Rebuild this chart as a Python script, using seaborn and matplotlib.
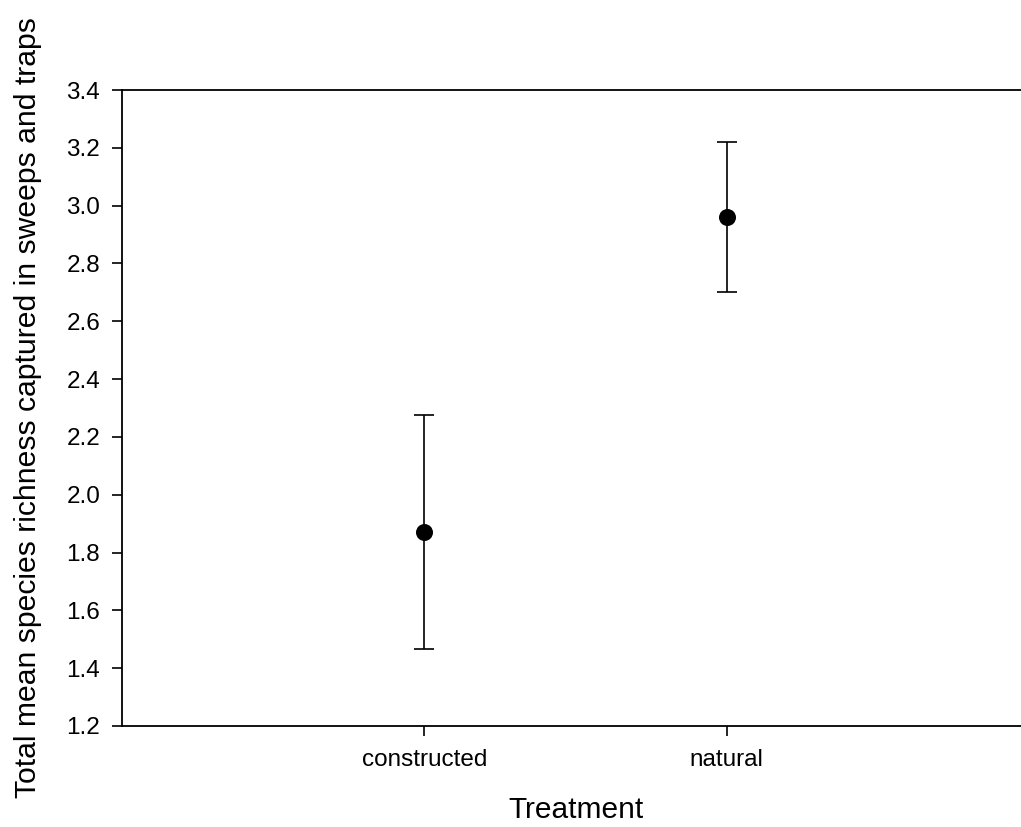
import matplotlib
matplotlib.use("Agg")
import matplotlib.pyplot as plt
import seaborn as sns
import pandas as pd

# Mean species richness per treatment with standard errors
treatments = ["constructed", "natural"]
mean_richness = [1.87, 2.96]
richness_err = [0.405, 0.26]

y_ticks = [1.2, 1.4, 1.6, 1.8, 2.0, 2.2, 2.4, 2.6, 2.8, 3.0, 3.2, 3.4]

sns.set_theme(style="white")
plt.rcParams["font.family"] = ["Liberation Sans", "DejaVu Sans"]

df = pd.DataFrame({"Treatment": treatments, "Richness": mean_richness, "Err": richness_err})

fig = plt.figure(figsize=(10.21, 8.27), dpi=100)
# the plotting box runs past the right edge of the figure
ax = fig.add_axes([122 / 1021, 101 / 827, 907 / 1021, 636 / 827])

ax.errorbar(range(len(treatments)), df["Richness"], yerr=df["Err"], fmt="none",
            ecolor="black", elinewidth=1.2, capsize=7, capthick=1.2, zorder=2)
sns.scatterplot(data=df, x="Treatment", y="Richness", ax=ax, color="black",
                s=150, edgecolor="black", linewidth=0, zorder=3)

ax.set_xlim(-1, 2)
ax.set_ylim(1.2, 3.4)
ax.set_yticks(y_ticks)
ax.set_yticklabels([f"{v:.1f}" for v in y_ticks])
ax.set_xticks(range(len(treatments)))
ax.set_xticklabels(treatments)

for side in ["left", "bottom", "top"]:
    ax.spines[side].set_visible(True)
    ax.spines[side].set_color("black")
    ax.spines[side].set_linewidth(1.3)
ax.spines["right"].set_visible(False)

ax.tick_params(axis="both", direction="out", length=7.2, width=1.2, color="black",
               labelsize=17.5, labelcolor="black")
ax.tick_params(axis="y", pad=8.5)
ax.tick_params(axis="x", pad=9)
ax.tick_params(left=True, bottom=True, top=False, right=False)

ax.set_xlabel("Treatment", fontsize=21.5, color="black")
ax.set_ylabel("Total mean species richness captured in sweeps and traps",
              fontsize=21.7, color="black")
ax.xaxis.set_label_coords(0.5, -0.110)
ax.yaxis.set_label_coords(-0.088, 0.5)

fig.savefig("out.png", dpi=100)
